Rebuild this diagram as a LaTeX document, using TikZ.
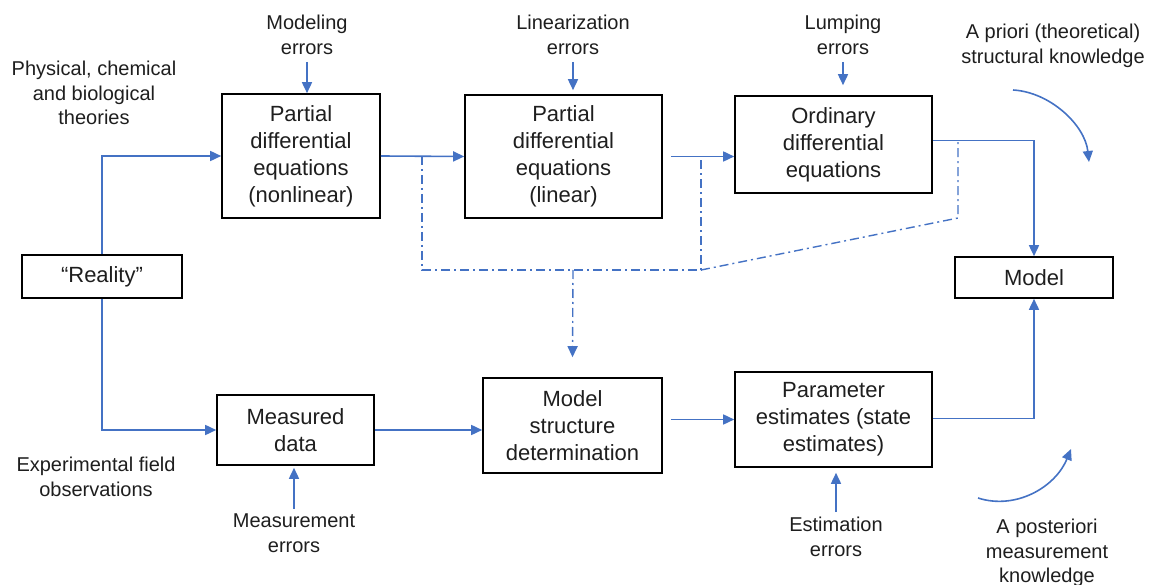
\documentclass[tikz,border=0pt]{standalone}
\usepackage{fontspec}
\setmainfont{Liberation Sans}
\usetikzlibrary{arrows.meta,calc}
\definecolor{lnblue}{RGB}{68,114,196}
\definecolor{txt}{RGB}{30,30,30}
\begin{document}
\begin{tikzpicture}[x=1pt,y=-1pt,
  box/.style={draw=black,line width=1.6pt,align=center,text=txt,inner sep=0pt,
    font=\fontsize{22}{27}\selectfont},
  lbl/.style={align=center,text=txt,inner sep=1pt,font=\fontsize{20}{24.5}\selectfont},
  tip/.style={-{Triangle[length=11pt,width=10pt]}},
  arr/.style={draw=lnblue,line width=1.6pt,tip},
  dd/.style={draw=lnblue,line width=1.4pt,dash pattern=on 9pt off 4pt on 2pt off 4pt}]
\useasboundingbox (0,0) rectangle (1165,585);
% boxes
\node[box,minimum width=158pt,minimum height=124pt] (pdenl) at (301,156) {Partial\\differential\\equations\\(nonlinear)};
\node[box,minimum width=197pt,minimum height=123pt] (pdel) at (563.5,156.5) {Partial\\differential\\equations\\(linear)};
\node[box,minimum width=197pt,minimum height=97pt] (ode) at (833.5,144.5) {Ordinary\\differential\\equations};
\node[box,minimum width=160pt,minimum height=43pt] (real) at (102,276.5) {“Reality”};
\node[box,minimum width=158pt,minimum height=41pt] (model) at (1034,277.5) {Model};
\node[box,minimum width=157pt,minimum height=70pt] (md) at (295.5,430) {Measured\\data};
\node[box,minimum width=179pt,minimum height=95pt] (msd) at (572.5,425.5) {Model\\structure\\determination};
\node[box,minimum width=197pt,minimum height=95pt] (pe) at (833.5,419.5) {Parameter\\estimates (state\\estimates)};
% labels
\node[lbl] (lmod) at (307,35) {Modeling\\errors};
\node[lbl] (llin) at (573,35) {Linearization\\errors};
\node[lbl] (llum) at (843,35) {Lumping\\errors};
\node[lbl] (lapr) at (1053,46) {A priori (theoretical)\\structural knowledge};
\node[lbl] (lphy) at (94,93) {Physical, chemical\\and biological\\theories};
\node[lbl] (lexp) at (96,477) {Experimental field\\observations};
\node[lbl] (lmeas) at (294,533) {Measurement\\errors};
\node[lbl] (lest) at (836,537) {Estimation\\errors};
\node[lbl] (lapo) at (1047,553) {A posteriori\\measurement\\knowledge};
% main flow
\draw[arr] (real.north) |- (pdenl.west);
\draw[arr] (real.south) |- (md.west);
\draw[arr] (pdenl.east) -- (pdel.west);
\coordinate (p2s) at ($(pdel.east)+(8,0)$);
\draw[arr] (p2s) -- (p2s -| ode.west);
\coordinate (o2s) at ($(ode.east)+(0,-4)$);
\draw[arr] (o2s) -| (model.north);
\coordinate (pes) at ($(pe.east)+(0,-1)$);
\draw[arr] (pes) -| (model.south);
\draw[arr] (md.east) -- (md.east -| msd.west);
\coordinate (m2s) at ($(msd.east |- pe.west)+(8,0)$);
\draw[arr] (m2s) -- (pe.west);
% error arrows
\draw[arr] ($(lmod.south)+(0,6)$) -- (lmod.south |- pdenl.north);
\draw[arr] ($(llin.south)+(0,6)$) -- ($(llin.south |- pdel.north)+(0,-4)$);
\draw[arr] ($(llum.south)+(0,6)$) -- ($(llum.south |- ode.north)+(0,-10)$);
\draw[arr] ($(lmeas.north)+(0,-4)$) -- ($(lmeas.north |- md.south)+(0,2)$);
\draw[arr] ($(lest.north)+(0,-4)$) -- ($(lest.north |- pe.south)+(0,5)$);
% dash-dot feedback
\coordinate (d1) at (422,156);
\coordinate (d2) at (701,156.5);
\coordinate (d3) at (958,140.5);
\coordinate (c1) at (422,270);
\coordinate (c2) at (701,270);
\coordinate (c3) at (958,218);
\coordinate (cm) at (573,270);
\draw[dd] (d1) -- (c1) -- (c2) -- (d2);
\draw[dd] (c2) -- (c3) -- (d3);
\draw[dd,tip] (cm) -- ($(msd.north)+(0,-20)$);
% curved arrows
\coordinate (a1) at (1013,90);
\coordinate (a2) at (1089,162);
\draw[arr] (a1) .. controls (1050,92) and (1085,125) .. (a2);
\coordinate (b1) at (978,498);
\coordinate (b2) at (1071,449);
\draw[arr] (b1) .. controls (1015,510) and (1055,488) .. (b2);
\end{tikzpicture}
\end{document}
